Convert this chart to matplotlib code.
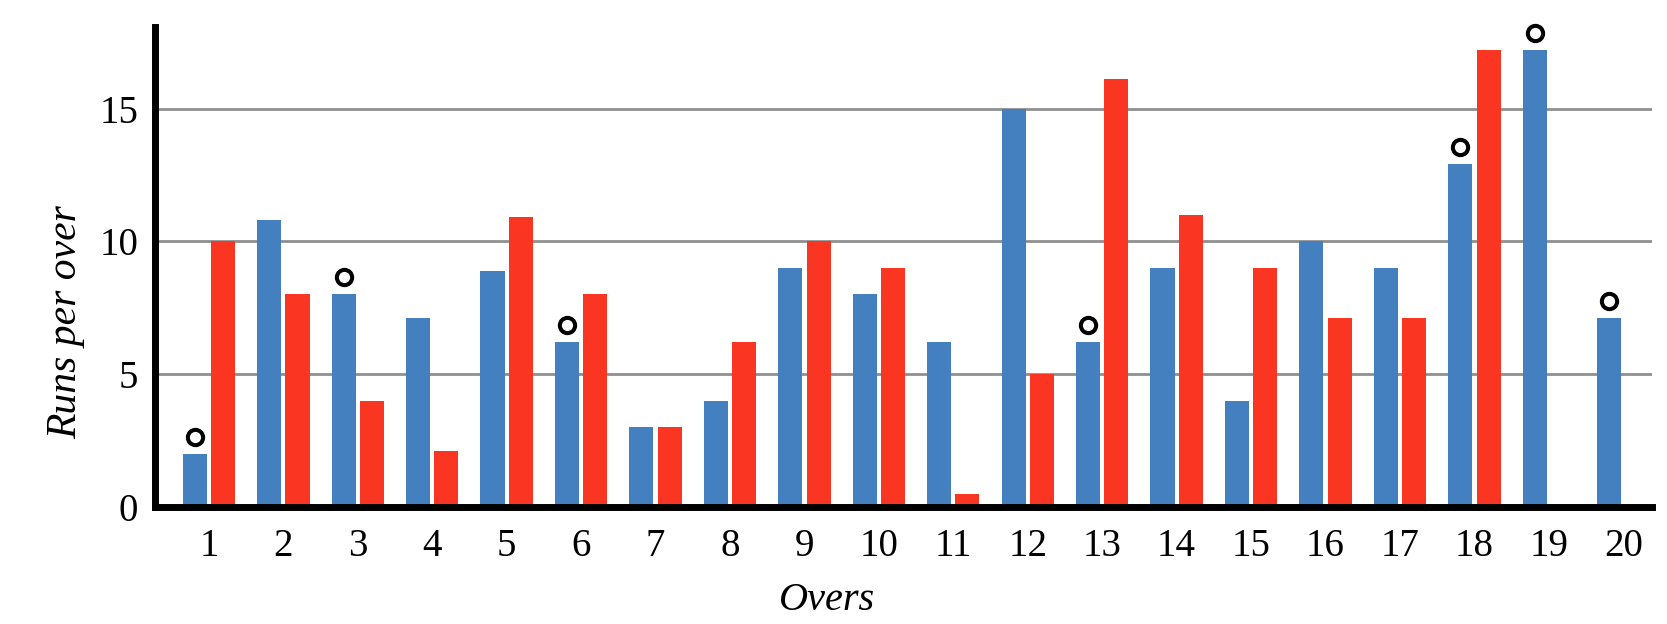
import numpy as np
import matplotlib
matplotlib.use("Agg")
import matplotlib.pyplot as plt

overs = list(range(1, 21))
team_blue = [2, 10.8, 8, 7.1, 8.9, 6.2, 3, 4, 9, 8, 6.2, 15, 6.2, 9, 4, 10, 9, 12.9, 17.2, 7.1]
team_red = [10, 8, 4, 2.1, 10.9, 8, 3, 6.2, 10, 9, 0.5, 5, 16.1, 11, 9, 7.1, 7.1, 17.2, 0, 0]
wicket_overs = [1, 3, 6, 13, 18, 19, 20]
y_ticks = [0, 5, 10, 15]

BLUE = "#4480bf"
RED = "#fa3522"

plt.rcParams["font.family"] = ["Liberation Serif", "DejaVu Serif"]

W, H = 1667, 624
fig = plt.figure(figsize=(W / 100, H / 100), dpi=100)
left, right, top, bottom = 155, 1652, 27, 507
ax = fig.add_axes([left / W, 1 - bottom / H, (right - left) / W, (bottom - top) / H])

x = np.array(overs, dtype=float)
bw = 0.323
off = 0.19
ax.bar(x - off, team_blue, width=bw, color=BLUE, zorder=3)
ax.bar(x + off, team_red, width=bw, color=RED, zorder=3)

wx = [o - off for o in wicket_overs]
wy = [team_blue[o - 1] + 0.65 for o in wicket_overs]
ax.plot(wx, wy, linestyle="none", marker="o", markersize=11, markeredgewidth=2.9,
        markeredgecolor="black", markerfacecolor="white", zorder=4, clip_on=False)

ax.set_xlim(0.276, 20.386)
ax.set_ylim(0, 18.07)

for v in y_ticks[1:]:
    ax.axhline(v, color="#8f8f8f", linewidth=2, zorder=1)

ax.set_xticks(overs)
ax.set_xticklabels([str(o) for o in overs], fontsize=28)
ax.set_yticks(y_ticks)
ax.set_yticklabels([str(v) for v in y_ticks], fontsize=28)
ax.tick_params(axis="both", length=0)
ax.tick_params(axis="x", pad=15)
ax.tick_params(axis="y", pad=12)

for s in ["top", "right"]:
    ax.spines[s].set_visible(False)
for s in ["left", "bottom"]:
    ax.spines[s].set_linewidth(5)
    ax.spines[s].set_color("black")
    ax.spines[s].set_zorder(5)

fig.text(66 / W, 1 - 322 / H, "Runs per over", rotation=90, ha="center", va="center",
         fontsize=30, style="italic")
fig.text(827 / W, 1 - 601 / H, "Overs", ha="center", va="center",
         fontsize=29, style="italic")

fig.savefig("out.png", dpi=100, facecolor="white")
